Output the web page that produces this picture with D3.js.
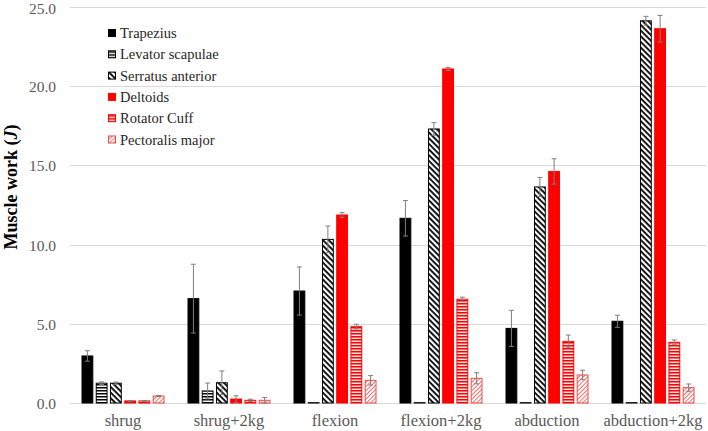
<!DOCTYPE html>
<html><head><meta charset="utf-8">
<script src="https://cdn.jsdelivr.net/npm/d3@7"></script>
<style>body{margin:0;background:#fff}svg{display:block}
text{font-family:"Liberation Serif","Times New Roman","DejaVu Serif",serif;}</style>
</head><body><div id="chart"></div>
<script>
const categories = ["shrug","shrug+2kg","flexion","flexion+2kg","abduction","abduction+2kg"];
const seriesNames = ["Trapezius","Levator scapulae","Serratus anterior","Deltoids","Rotator Cuff","Pectoralis major"];
const trapezius   = [2.97, 6.59, 7.07, 11.66, 4.71, 5.16];
const trapeziusErr= [0.33, 2.17, 1.52, 1.12, 1.14, 0.38];
const levator     = [1.25, 0.76, 0.02, 0.02, 0.02, 0.02];
const levatorErr  = [0.08, 0.50, 0.00, 0.00, 0.00, 0.00];
const serratus    = [1.25, 1.28, 10.33, 17.30, 13.64, 24.13];
const serratusErr = [0.07, 0.74, 0.84, 0.40, 0.60, 0.28];
const deltoids    = [0.13, 0.25, 11.87, 21.09, 14.62, 23.63];
const deltoidsErr = [0.03, 0.20, 0.15, 0.10, 0.80, 0.84];
const rotator     = [0.13, 0.17, 4.82, 6.55, 3.89, 3.83];
const rotatorErr  = [0.03, 0.07, 0.15, 0.13, 0.40, 0.15];
const pectoralis  = [0.44, 0.17, 1.43, 1.56, 1.77, 0.97];
const pectoralisErr=[0.04, 0.18, 0.30, 0.35, 0.30, 0.23];
const yTicks = [0, 5, 10, 15, 20, 25];

const values = [trapezius, levator, serratus, deltoids, rotator, pectoralis];
const errors = [trapeziusErr, levatorErr, serratusErr, deltoidsErr, rotatorErr, pectoralisErr];

const W = 708, H = 431;
const svg = d3.select("#chart").append("svg").attr("width", W).attr("height", H);

const defs = svg.append("defs");
function hPattern(id, color, bg, period, thick) {
  const p = defs.append("pattern").attr("id", id).attr("patternUnits","userSpaceOnUse")
    .attr("width", 4).attr("height", period);
  p.append("rect").attr("width",4).attr("height",period).attr("fill",bg);
  p.append("rect").attr("y",0).attr("width",4).attr("height",thick).attr("fill",color);
}
hPattern("pLev", "#000", "#fff", 3, 1.5);
hPattern("pRot", "#ff0000", "#fde0e0", 3, 1.5);
{
  const p = defs.append("pattern").attr("id","pSer").attr("patternUnits","userSpaceOnUse")
    .attr("width",4).attr("height",4).attr("patternTransform","rotate(45)");
  p.append("rect").attr("width",4).attr("height",4).attr("fill","#fff");
  p.append("rect").attr("width",4).attr("height",1.8).attr("fill","#000");
}
{
  const p = defs.append("pattern").attr("id","pPec").attr("patternUnits","userSpaceOnUse")
    .attr("width",3).attr("height",3).attr("patternTransform","rotate(-45)");
  p.append("rect").attr("width",3).attr("height",3).attr("fill","#fff");
  p.append("rect").attr("width",3).attr("height",1).attr("fill","#f26b6b");
}
const fills = ["#000", "url(#pLev)", "url(#pSer)", "#ff0000", "url(#pRot)", "url(#pPec)"];
const strokes = ["#000", "#000", "#000", "#ff0000", "#ff0000", "#f04a4a"];

const mLeft = 70, mRight = 706, mTop = 7, mBottom = 403;
const y = d3.scaleLinear().domain([0, 25]).range([mBottom, mTop]);
const x0 = d3.scaleBand().domain(categories).range([mLeft, mRight]).padding(0);
const groupW = 83;
const x1 = d3.scaleBand().domain(seriesNames).range([0, groupW]).paddingInner(0.17);

svg.append("g").selectAll("line").data(yTicks).join("line")
  .attr("x1", mLeft).attr("x2", mRight)
  .attr("y1", d => Math.round(y(d)) + 0.5).attr("y2", d => Math.round(y(d)) + 0.5)
  .attr("stroke", "#d9d9d9").attr("stroke-width", 1);

const yAxis = d3.axisLeft(y).tickValues(yTicks).tickFormat(d3.format(".1f")).tickSize(0).tickPadding(14);
const ya = svg.append("g").attr("transform", `translate(${mLeft},0)`).call(yAxis);
ya.select(".domain").remove();
ya.attr("font-family", null);
ya.selectAll("text").attr("font-size", 15.5).attr("fill", "#595959").attr("dy", "0.36em");
ya.selectAll(".tick").filter(d => d === 25).select("text").attr("dy", "0.42em");

const xAxis = d3.axisBottom(x0).tickSize(0).tickPadding(0);
const xa = svg.append("g").attr("transform", `translate(0,${mBottom})`).call(xAxis);
xa.select(".domain").remove();
xa.attr("font-family", null);
xa.selectAll("text").attr("font-size", 16.5).attr("fill", "#595959")
  .attr("dy", null).attr("y", 23);

const groups = svg.append("g").selectAll("g").data(categories).join("g")
  .attr("transform", c => `translate(${x0(c) + (x0.bandwidth() - groupW) / 2},0)`);

groups.each(function(c, ci) {
  const g = d3.select(this);
  seriesNames.forEach((s, si) => {
    const v = values[si][ci];
    const bx = x1(s), bw = x1.bandwidth();
    g.append("rect").attr("x", bx + 0.5).attr("y", y(v))
      .attr("width", bw - 1).attr("height", Math.max(0, y(0) - y(v)))
      .attr("fill", fills[si]).attr("stroke", strokes[si]).attr("stroke-width", 1);
    const e = errors[si][ci];
    if (e > 0) {
      const cx = bx + bw / 2;
      const eg = g.append("g").attr("stroke", "#7f7f7f").attr("stroke-width", 1);
      eg.append("line").attr("x1", cx).attr("x2", cx).attr("y1", y(v + e)).attr("y2", y(v - e));
      eg.append("line").attr("x1", cx - 2.5).attr("x2", cx + 2.5).attr("y1", y(v + e)).attr("y2", y(v + e));
      eg.append("line").attr("x1", cx - 2.5).attr("x2", cx + 2.5).attr("y1", y(v - e)).attr("y2", y(v - e));
    }
  });
});

const lg = svg.append("g").attr("transform", "translate(108,33)");
seriesNames.forEach((s, i) => {
  const row = lg.append("g").attr("transform", `translate(0,${i * 21.3})`);
  row.append("rect").attr("x", 0.5).attr("y", -3.5).attr("width", 7).attr("height", 7)
    .attr("fill", fills[i]).attr("stroke", strokes[i]).attr("stroke-width", 1);
  row.append("text").attr("x", 12).attr("y", 0).attr("dy", "0.35em")
    .attr("font-size", 14.5).attr("fill", "#262626").text(s);
});

const yt = svg.append("text").attr("transform", `translate(17,187) rotate(-90)`)
  .attr("text-anchor", "middle").attr("font-size", 18)
  .attr("font-weight", "bold").attr("fill", "#000");
yt.append("tspan").text("Muscle work (");
yt.append("tspan").attr("font-style", "italic").text("J");
yt.append("tspan").text(")");
</script></body></html>
